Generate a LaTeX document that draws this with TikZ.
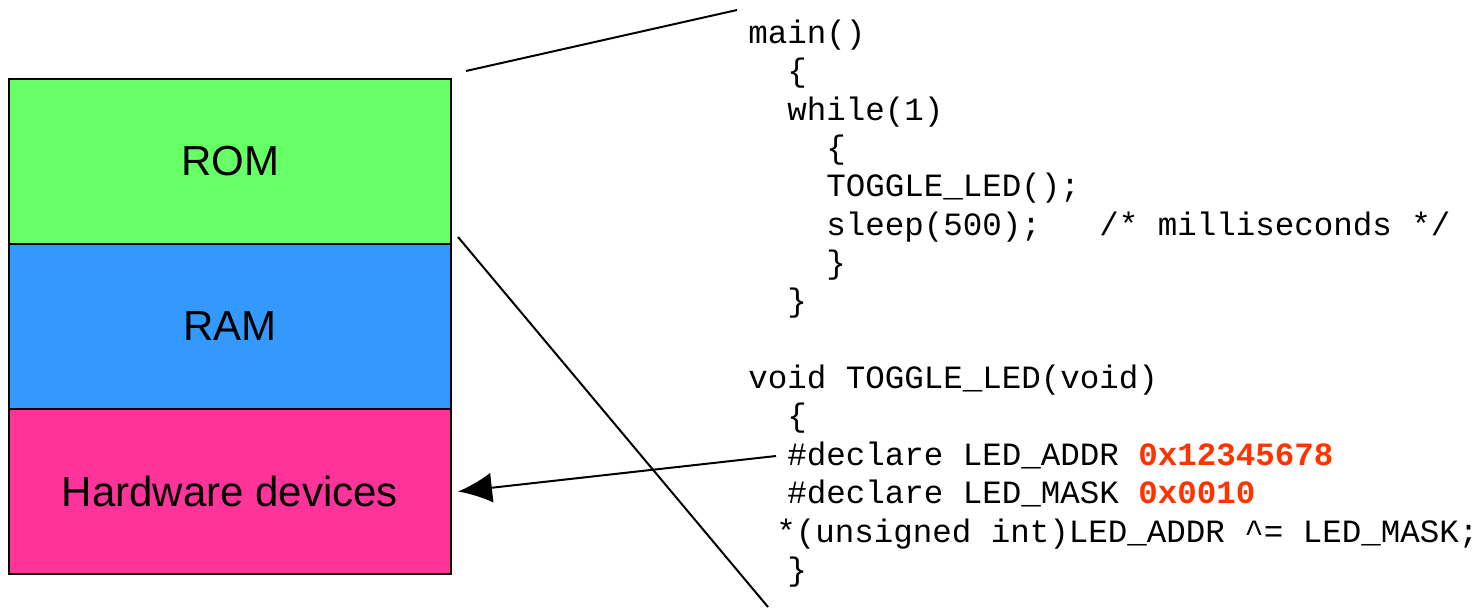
\documentclass[tikz,border=0pt]{standalone}
\usepackage{fontspec}
\setmainfont{Liberation Sans}
\newfontfamily\codefont{Liberation Mono}
\usetikzlibrary{arrows.meta}
\definecolor{romgreen}{HTML}{66FF66}
\definecolor{ramblue}{HTML}{3399FF}
\definecolor{hwpink}{HTML}{FF3399}
\definecolor{hexred}{HTML}{FF3300}
\tikzset{
  memblock/.style={draw=black,line width=1pt,minimum width=221pt,minimum height=82.5pt,
    inner sep=0pt,font=\fontsize{21}{25}\selectfont},
  codeline/.style={anchor=base west,inner sep=0pt,font=\codefont\fontsize{16.25}{19}\selectfont},
  hex/.style={text=hexred,font=\codefont\bfseries}
}
\begin{document}
\begin{tikzpicture}[x=0.5pt,y=-0.5pt]
  \useasboundingbox (0,0) rectangle (1483,610);
  % memory map
  \node[memblock,fill=romgreen] (rom) at (230,161.5) {ROM};
  \node[memblock,fill=ramblue] (ram) at (230,326.5) {RAM};
  \node[memblock,fill=hwpink] (hw) at (230,491.5) {Hardware devices};
  % the program
  \node[codeline] (c1) at (748,44) {main()};
  \node[codeline] (c2) at (787,82) {\{};
  \node[codeline] (c3) at (787,120) {while(1)};
  \node[codeline] (c4) at (826,158) {\{};
  \node[codeline] (c5) at (826,196) {TOGGLE\_LED();};
  \node[codeline] (c6) at (826,235) {sleep(500);\ \ \ /* milliseconds */};
  \node[codeline] (c7) at (826,273) {\}};
  \node[codeline] (c8) at (787,311) {\}};
  \node[codeline] (c9) at (748,388) {void TOGGLE\_LED(void)};
  \node[codeline] (c10) at (787,426) {\{};
  \node[codeline] (c11) at (787,465) {\#declare LED\_ADDR {\bfseries\color{hexred}0x12345678}};
  \node[codeline] (c12) at (787,503) {\#declare LED\_MASK {\bfseries\color{hexred}0x0010}};
  \node[codeline] (c13) at (776,542) {*(unsigned int)LED\_ADDR \^{}= LED\_MASK;};
  \node[codeline] (c14) at (787,580) {\}};
  % zoom lines
  \coordinate (z1) at (466,71);
  \coordinate (z2) at (737,10);
  \coordinate (z3) at (458,237);
  \coordinate (z4) at (768,607);
  \draw[line width=1pt] (z1) -- (z2);
  \draw[line width=1pt] (z3) -- (z4);
  \draw[line width=1pt,-{Latex[length=17pt,width=15pt]}] (c11.base west) ++(-11,-9) -- ([xshift=3pt]hw.east);
\end{tikzpicture}
\end{document}
